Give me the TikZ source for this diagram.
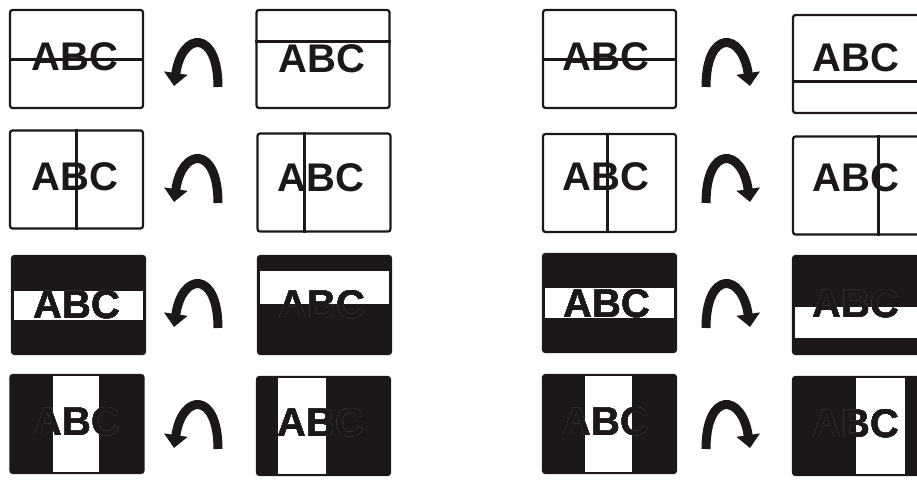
\documentclass[tikz,border=0pt]{standalone}
\usepackage{fontspec}
\setmainfont{Liberation Sans}
\usepackage{contour}
\usetikzlibrary{arrows.meta}
\contourlength{0.3pt}
\definecolor{ink}{RGB}{28,24,24}

\begin{document}
\begin{tikzpicture}[x=1pt, y=-1pt,
    card/.style={draw=ink, line width=2.2pt, rounded corners=2.5pt, minimum width=133pt, minimum height=98pt, inner sep=0pt},
    darkcard/.style={card, fill=ink},
    txt/.style={inner sep=0pt, font=\fontsize{40}{40}\selectfont\bfseries, text=ink},
    cut/.style={ink, line width=3pt},
    flip/.style={ink, line width=9pt, -{Triangle[width=23pt,length=13pt]}}
]
\clip (0,0) rectangle (917,479);
\fill[white] (0,0) rectangle (917,479);

% left group: boxes
\node[card] (b1) at (76.5,59) {};
\node[card] (b2) at (323,59) {};
\node[card] (b3) at (76.5,179.5) {};
\node[card] (b4) at (324,182.5) {};
\node[darkcard] (b5) at (78.5,305) {};
\node[darkcard] (b6) at (324.5,305) {};
\node[darkcard] (b7) at (77,424) {};
\node[darkcard] (b8) at (323.5,426) {};

% right group: boxes
\node[card] (b9) at (609.5,59) {};
\node[card] (b10) at (859.5,64) {};
\node[card] (b11) at (609.5,183) {};
\node[card] (b12) at (859.5,185.5) {};
\node[darkcard] (b13) at (609.5,303) {};
\node[darkcard] (b14) at (859.5,305) {};
\node[darkcard] (b15) at (609.5,424) {};
\node[darkcard] (b16) at (859.5,426) {};

% white bands
\fill[white] (14,291) rectangle (143,320);
\fill[white] (260,271) rectangle (389,304);
\fill[white] (53,376) rectangle (99,472);
\fill[white] (278,378) rectangle (326,474);
\fill[white] (545,288) rectangle (674,318);
\fill[white] (795,307) rectangle (917,338);
\fill[white] (585,376) rectangle (632,472);
\fill[white] (856,378) rectangle (905,474);

% labels
\node[txt] (t1) at (75,57) {ABC};
\node[txt] (t2) at (322,59) {ABC};
\node[txt] (t3) at (75,177) {ABC};
\node[txt] (t4) at (321,178) {ABC};
\node[txt] (t5) at (77,305) {\contour{black!75}{ABC}};
\node[txt] (t6) at (322,305) {\contour{black!75}{ABC}};
\node[txt] (t7) at (77,422) {\contour{black!75}{ABC}};
\node[txt] (t8) at (321,423) {\contour{black!75}{ABC}};
\node[txt] (t9) at (606,57) {ABC};
\node[txt] (t10) at (856,58) {ABC};
\node[txt] (t11) at (606,177) {ABC};
\node[txt] (t12) at (856,178) {ABC};
\node[txt] (t13) at (607,304) {\contour{black!75}{ABC}};
\node[txt] (t14) at (856,304) {\contour{black!75}{ABC}};
\node[txt] (t15) at (606,422) {\contour{black!75}{ABC}};
\node[txt] (t16) at (856,424) {\contour{black!75}{ABC}};

% cut lines
\draw[cut] (b1.west) -- (b1.east);
\draw[cut] (b2.west |- 0,41) -- (b2.east |- 0,41);
\draw[cut] (b3.north) -- (b3.south);
\draw[cut] (b4.north -| 304,0) -- (b4.south -| 304,0);
\draw[cut] (b9.west) -- (b9.east);
\draw[cut] (b10.west |- 0,81) -- (b10.east |- 0,81);
\draw[cut] (b11.north -| 607,0) -- (b11.south -| 607,0);
\draw[cut] (b12.north -| 878,0) -- (b12.south -| 878,0);

% flip arrows
\foreach \cy [count=\i] in {63,179,304,425} {
  \coordinate (ls\i) at (218,\cy+24);
  \coordinate (le\i) at (174,\cy+23);
  \coordinate (rs\i) at (706,\cy+24);
  \coordinate (re\i) at (750,\cy+23);
  \draw[flip] (ls\i) .. controls (218,\cy-34) and (182,\cy-32) .. (le\i);
  \draw[flip] (rs\i) .. controls (706,\cy-34) and (742,\cy-32) .. (re\i);
}
\end{tikzpicture}
\end{document}
